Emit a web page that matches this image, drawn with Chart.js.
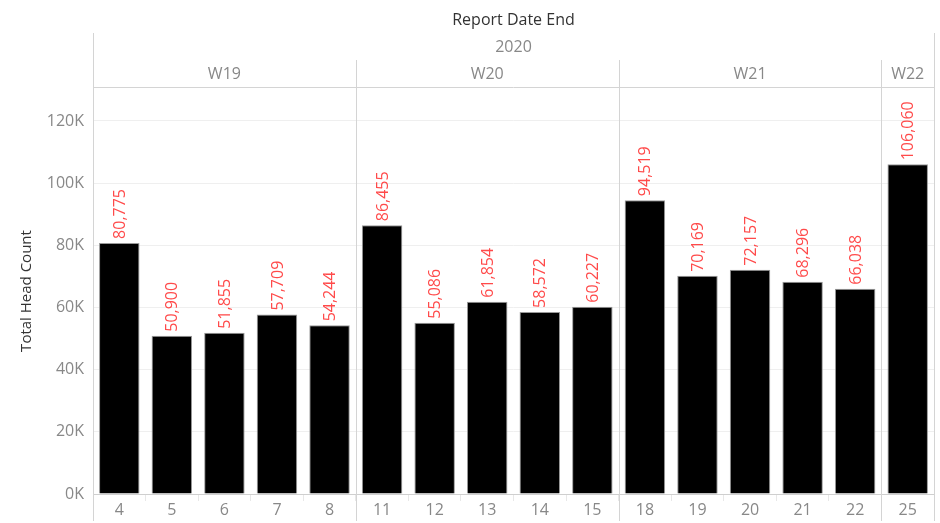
<!DOCTYPE html>
<html>
<head>
<meta charset="utf-8">
<script src="https://cdn.jsdelivr.net/npm/chart.js@4.4.1/dist/chart.umd.min.js"></script>
<style>
  html, body { margin: 0; padding: 0; background: #fff; }
  #wrap { width: 940px; height: 523px; }
</style>
</head>
<body>
<div id="wrap"><canvas id="myChart" width="940" height="523"></canvas></div>
<script>
const dias = ["4", "5", "6", "7", "8", "11", "12", "13", "14", "15", "18", "19", "20", "21", "22", "25"]
const semanas = ["W19", "W19", "W19", "W19", "W19", "W20", "W20", "W20", "W20", "W20", "W21", "W21", "W21", "W21", "W21", "W22"]
const headCount = [80775, 50900, 51855, 57709, 54244, 86455, 55086, 61854, 58572, 60227, 94519, 70169, 72157, 68296, 66038, 106060]
const yTicks = [0, 20000, 40000, 60000, 80000, 100000, 120000]
const anio = "2020"
const tituloArriba = "Report Date End"

const fuente = "'Open Sans', sans-serif"
const chartDOM = document.getElementById("myChart").getContext("2d")

// encabezado estilo tableau: titulo, año, semanas y lineas separadoras
const encabezado = {
    id: "encabezado",
    afterDraw(chart) {
        const ctx = chart.ctx
        const x = chart.scales.x
        const area = chart.chartArea
        const borde = (i) => {
            if (i <= 0) return area.left
            if (i >= dias.length) return area.right
            return (x.getPixelForValue(i - 1) + x.getPixelForValue(i)) / 2
        }
        ctx.save()
        ctx.strokeStyle = "#d4d4d4"
        ctx.lineWidth = 1
        // lineas exteriores
        ctx.beginPath()
        ctx.moveTo(Math.round(area.left) + 0.5, 33)
        ctx.lineTo(Math.round(area.left) + 0.5, 521)
        ctx.moveTo(Math.round(area.right) + 0.5, 33)
        ctx.lineTo(Math.round(area.right) + 0.5, 521)
        ctx.moveTo(area.left, 87.5)
        ctx.lineTo(area.right, 87.5)
        ctx.stroke()

        ctx.textAlign = "center"
        ctx.textBaseline = "middle"
        ctx.fillStyle = "#333"
        ctx.font = "16px " + fuente
        ctx.fillText(tituloArriba, (area.left + area.right) / 2, 20)
        ctx.fillStyle = "#888"
        ctx.fillText(anio, (area.left + area.right) / 2, 47)

        let inicio = 0
        for (let i = 1; i <= semanas.length; i++) {
            if (i === semanas.length || semanas[i] !== semanas[inicio]) {
                const a = borde(inicio)
                const b = borde(i)
                ctx.fillStyle = "#888"
                ctx.fillText(semanas[inicio], (a + b) / 2, 74)
                if (i < semanas.length) {
                    ctx.beginPath()
                    ctx.moveTo(Math.round(b) + 0.5, 60)
                    ctx.lineTo(Math.round(b) + 0.5, 521)
                    ctx.stroke()
                }
                inicio = i
            }
        }
        ctx.restore()
    }
}

// etiquetas rojas giradas sobre cada barra
const etiquetas = {
    id: "etiquetas",
    afterDatasetsDraw(chart) {
        const ctx = chart.ctx
        const meta = chart.getDatasetMeta(0)
        ctx.save()
        ctx.fillStyle = "#ff4a4a"
        ctx.font = "16px " + fuente
        ctx.textAlign = "left"
        ctx.textBaseline = "middle"
        meta.data.forEach((barra, i) => {
            ctx.save()
            ctx.translate(barra.x, barra.y - 4)
            ctx.rotate(-Math.PI / 2)
            ctx.fillText(headCount[i].toLocaleString("en-US"), 0, 1)
            ctx.restore()
        })
        ctx.restore()
    }
}

const config = {
    type: "bar",
    data: {
        labels: dias,
        datasets: [{
            label: "Total Head Count",
            data: headCount,
            backgroundColor: "#000",
            borderColor: "#999",
            borderWidth: 1,
            barPercentage: 0.77,
            categoryPercentage: 1
        }]
    },
    options: {
        responsive: false,
        animation: false,
        layout: { padding: { top: 88, right: 6, left: 0, bottom: 0 } },
        plugins: {
            legend: { display: false },
            tooltip: { enabled: false }
        },
        scales: {
            x: {
                afterFit: (s) => { s.height = 29 },
                grid: { offset: true, drawOnChartArea: false, tickLength: 7, color: "#e8e8e8" },
                border: { color: "#cfcfcf" },
                ticks: { color: "#888", font: { size: 16, family: fuente }, padding: 0, maxRotation: 0 }
            },
            y: {
                min: 0,
                max: 130600,
                afterFit: (s) => { s.width = 93 },
                afterBuildTicks: (s) => { s.ticks = yTicks.map(v => ({ value: v })) },
                grid: { color: "#efefef", drawTicks: false },
                border: { display: false },
                ticks: {
                    color: "#888",
                    padding: 9,
                    font: { size: 16, family: fuente },
                    callback: (v) => (v / 1000) + "K"
                },
                title: {
                    display: true,
                    text: "Total Head Count",
                    color: "#333",
                    font: { size: 15, family: fuente },
                    padding: { top: 18, bottom: 0 }
                }
            }
        }
    },
    plugins: [encabezado, etiquetas]
}

new Chart(chartDOM, config)
</script>
</body>
</html>
